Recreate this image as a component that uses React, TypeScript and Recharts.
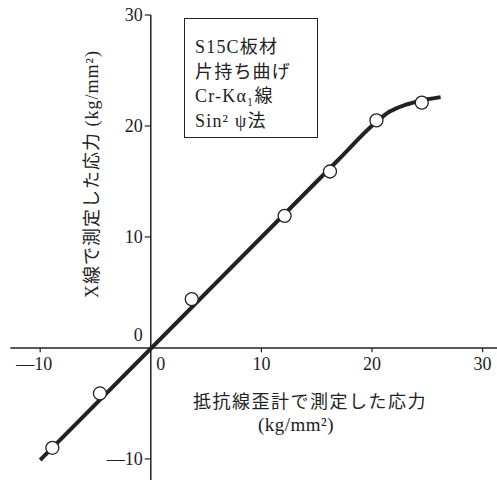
import {
  ComposedChart,
  Line,
  Scatter,
  XAxis,
  YAxis,
  ReferenceLine,
} from 'recharts'

// measured points: strain gauge stress vs X-ray stress (kg/mm²)
const gaugeStress = [-8.9, -4.6, 3.7, 12.1, 16.2, 20.4, 24.5]
const xrayStress = [-9.0, -4.1, 4.4, 11.9, 15.9, 20.5, 22.1]

// hand-drawn fit curve
const fitX = [-10, 17, 20.2, 21.6, 23, 24.5, 26.2]
const fitY = [-10.1, 17, 20.2, 21.3, 21.9, 22.3, 22.6]

const xTicks = [-10, 0, 10, 20, 30]
const xTickLabels = ['—10', '0', '10', '20', '30']
const yTicks = [30, 20, 10, 0, -10]
const yTickLabels = ['30', '20', '10', '0', '—10']

const legendLines = ['S15C板材', '片持ち曲げ', 'Cr-Kα₁線', 'Sin² ψ法']

const points = gaugeStress.map((x, i) => ({ x, y: xrayStress[i] }))
const fitLine = fitX.map((x, i) => ({ x, y: fitY[i] }))

const INK = '#222'
const FONT = '"Liberation Serif", "DejaVu Serif", "Noto Sans CJK JP", serif'
const JP_FONT = '"Liberation Serif", "Noto Sans CJK JP", serif'

const OpenCircle = (props: { cx?: number; cy?: number }) => {
  const { cx, cy } = props
  if (cx == null || cy == null) return null
  return <circle cx={cx} cy={cy} r={6.5} fill="#fff" stroke={INK} strokeWidth={1.3} />
}

export default function App() {
  return (
    <div style={{ position: 'absolute', left: 0, top: 0, width: 497, height: 480, background: '#fff', fontFamily: FONT }}>
      <ComposedChart
        width={497}
        height={480}
        margin={{ top: 15, right: 0, left: 7, bottom: 0 }}
      >
        <XAxis type="number" dataKey="x" domain={[-13, 31.3]} hide allowDataOverflow />
        <YAxis type="number" dataKey="y" domain={[-11.9, 30]} hide allowDataOverflow />

        {/* axes crossing at the origin */}
        <ReferenceLine segment={[{ x: -12.7, y: 0 }, { x: 31.3, y: 0 }]} stroke={INK} strokeWidth={1.5} />
        <ReferenceLine segment={[{ x: 0, y: 30 }, { x: 0, y: -11.9 }]} stroke={INK} strokeWidth={1.5} />

        {xTicks.map((t, i) =>
          t === 0 ? (
            <ReferenceLine
              key={`xt-${t}`}
              segment={[{ x: 0, y: 0 }, { x: 0, y: -0.01 }]}
              stroke="none"
              label={{ value: xTickLabels[i], position: 'bottom', offset: 9, dx: 10, fill: INK, fontSize: 18, fontFamily: FONT }}
            />
          ) : (
            <ReferenceLine
              key={`xt-${t}`}
              segment={[{ x: t, y: 0 }, { x: t, y: -0.4 }]}
              stroke={INK}
              strokeWidth={1.2}
              label={{ value: xTickLabels[i], position: 'bottom', offset: 5, dx: t < 0 ? -6 : 0, fill: INK, fontSize: 18, fontFamily: FONT }}
            />
          ),
        )}

        {yTicks.map((t, i) =>
          t === 0 ? (
            <ReferenceLine
              key={`yt-${t}`}
              segment={[{ x: -0.01, y: 0 }, { x: 0, y: 0 }]}
              stroke="none"
              label={{ value: yTickLabels[i], position: 'left', offset: 8, dy: -13, fill: INK, fontSize: 18, fontFamily: FONT }}
            />
          ) : (
            <ReferenceLine
              key={`yt-${t}`}
              segment={[{ x: -0.55, y: t }, { x: 0, y: t }]}
              stroke={INK}
              strokeWidth={1.2}
              label={{ value: yTickLabels[i], position: 'left', offset: 2, fill: INK, fontSize: 18, fontFamily: FONT }}
            />
          ),
        )}

        <Line
          data={fitLine}
          dataKey="y"
          type="monotone"
          stroke={INK}
          strokeWidth={4}
          dot={false}
          activeDot={false}
          isAnimationActive={false}
        />
        <Scatter data={points} dataKey="y" shape={<OpenCircle />} isAnimationActive={false} />
      </ComposedChart>

      {/* legend box */}
      <div
        style={{
          position: 'absolute',
          left: 184,
          top: 18,
          width: 134,
          height: 120,
          border: `1.3px solid ${INK}`,
          boxSizing: 'border-box',
          padding: '16px 0 0 10px',
          fontFamily: JP_FONT,
          fontSize: 18,
          letterSpacing: 1.2,
          lineHeight: '24.5px',
          color: INK,
        }}
      >
        {legendLines.map((l) => (
          <div key={l} style={{ whiteSpace: 'nowrap' }}>{l}</div>
        ))}
      </div>

      {/* y-axis title */}
      <div
        style={{
          position: 'absolute',
          left: 90,
          top: 174,
          transform: 'translate(-50%, -50%) rotate(-90deg)',
          whiteSpace: 'nowrap',
          fontFamily: JP_FONT,
          fontSize: 18,
          letterSpacing: 1,
          color: INK,
        }}
      >
        X線で測定した応力 (kg/mm²)
      </div>

      {/* x-axis title */}
      <div
        style={{
          position: 'absolute',
          left: 310,
          top: 400,
          transform: 'translate(-50%, -50%)',
          whiteSpace: 'nowrap',
          fontFamily: JP_FONT,
          fontSize: 18,
          letterSpacing: 1.5,
          color: INK,
        }}
      >
        抵抗線歪計で測定した応力
      </div>
      <div
        style={{
          position: 'absolute',
          left: 296,
          top: 425,
          transform: 'translate(-50%, -50%)',
          whiteSpace: 'nowrap',
          fontFamily: FONT,
          fontSize: 19,
          letterSpacing: 0.5,
          color: INK,
        }}
      >
        (kg/mm²)
      </div>
    </div>
  )
}
